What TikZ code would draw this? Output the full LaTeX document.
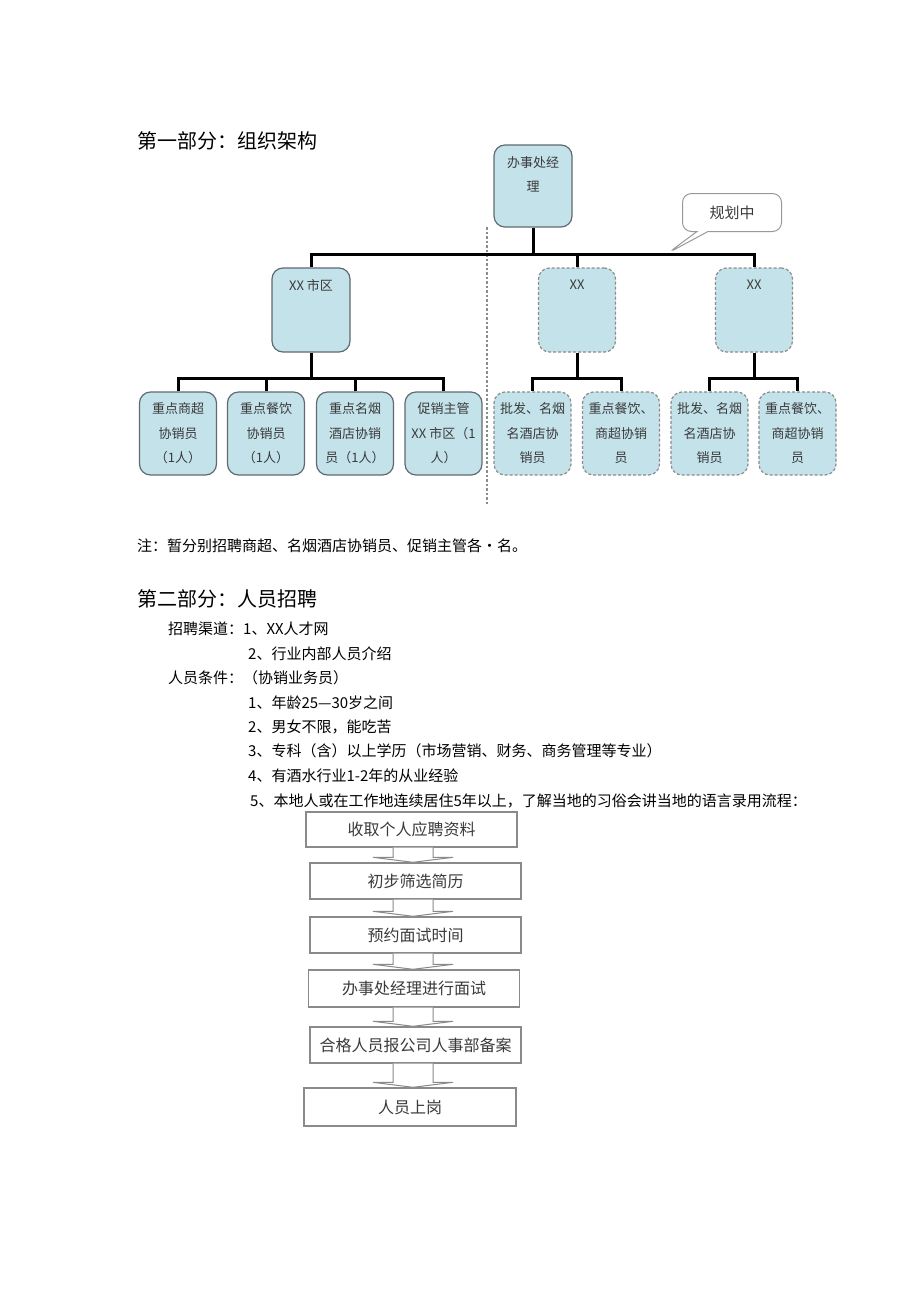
\documentclass[tikz,border=0pt]{standalone}
\usepackage{fontspec}
\setmainfont{Noto Sans CJK SC}
\usetikzlibrary{shapes.callouts,calc}
\definecolor{boxfill}{HTML}{C4E2EA}
\definecolor{boxline}{HTML}{5F6B70}
\definecolor{dashline}{HTML}{8C8C8C}
\definecolor{txt}{HTML}{3A3A3A}
\definecolor{flowline}{HTML}{8A8A8A}
\begin{document}
\begin{tikzpicture}[x=1pt,y=-1pt,
  orgbox/.style={draw=boxline, fill=boxfill, rounded corners=11pt, line width=1.2pt, minimum width=77pt, minimum height=83pt, inner sep=0pt},
  planbox/.style={orgbox, draw=dashline, dash pattern=on 3pt off 2pt},
  boxtext/.style={text=txt, font=\fontsize{13}{24.5}\selectfont, align=center, inner sep=0pt},
  conn/.style={line width=3pt, black, line join=miter},
  heading/.style={anchor=base west, inner sep=0pt, font=\fontsize{20}{20}\selectfont},
  body/.style={anchor=base west, inner sep=0pt, font=\fontsize{15}{15}\selectfont},
  flowbox/.style={draw=flowline, line width=1.4pt, fill=white, minimum width=211pt, minimum height=36pt, inner sep=0pt, text=txt, font=\fontsize{16}{16}\selectfont},
  blockarrow/.style={draw=flowline, line width=1pt, fill=white},
  bubble/.style={rectangle callout, draw=gray!80, fill=white, rounded corners=9pt, minimum width=99pt, minimum height=38pt, callout absolute pointer={(668,253)}, callout pointer width=11pt, font=\fontsize{15}{15}\selectfont, text=txt, line width=1pt},
  sep/.style={draw=dashline, line width=1.3pt, dash pattern=on 2.5pt off 2pt}
]
\fill[white] (0,0) rectangle (920,1301);
\useasboundingbox (0,0) rectangle (920,1301);

% headings
\node[heading] (h1) at (137,148) {第一部分：组织架构};

% separator
\coordinate (s1) at (487,227);
\coordinate (s2) at (487,505);
\draw[sep] (s1) -- (s2);

% org boxes
\node[orgbox, minimum width=78pt, minimum height=82pt] (top) at (533,186) {};
\node[boxtext] (toptext) at (533,174.5) {办事处经\\理};

\node[orgbox, minimum width=78pt, minimum height=84pt] (city) at (311,310) {};
\node[boxtext] (citytext) at (311,285) {XX 市区};
\node[planbox, minimum height=84pt] (plan1) at (577,310) {};
\node[boxtext] (plan1text) at (577,285) {XX};
\node[planbox, minimum height=84pt] (plan2) at (754,310) {};
\node[boxtext] (plan2text) at (754,285) {XX};

\node[orgbox] (b1) at (178,433.5) {};
\node[boxtext] (b1t) at (b1) {重点商超\\协销员\\（1人）};
\node[orgbox] (b2) at (266,433.5) {};
\node[boxtext] (b2t) at (b2) {重点餐饮\\协销员\\（1人）};
\node[orgbox] (b3) at (355,433.5) {};
\node[boxtext] (b3t) at (b3) {重点名烟\\酒店协销\\员（1人）};
\node[orgbox] (b4) at (443.5,433.5) {};
\node[boxtext] (b4t) at (b4) {促销主管\\XX 市区（1\\人）};

\node[planbox] (p1) at (532.5,433.5) {};
\node[boxtext] (p1t) at (p1) {批发、名烟\\名酒店协\\销员};
\node[planbox] (p2) at (621,433.5) {};
\node[boxtext] (p2t) at (p2) {重点餐饮、\\商超协销\\员};
\node[planbox] (p3) at (709.5,433.5) {};
\node[boxtext] (p3t) at (p3) {批发、名烟\\名酒店协\\销员};
\node[planbox] (p4) at (797.5,433.5) {};
\node[boxtext] (p4t) at (p4) {重点餐饮、\\商超协销\\员};

% callout
\node[bubble] (plan) at (732,212.5) {规划中};

% connectors
\coordinate (bus1) at (0,254);
\coordinate (bus2) at (0,378);
\draw[conn] (top.south) -- (top.south |- bus1);
\draw[conn] (city.north) |- (plan2.north |- bus1) -- (plan2.north);
\draw[conn] (plan1.north) -- (plan1.north |- bus1);

\draw[conn] (city.south) -- (city.south |- bus2);
\draw[conn] (b1.north) |- (b4.north |- bus2) -- (b4.north);
\draw[conn] (b2.north) -- (b2.north |- bus2);
\draw[conn] (b3.north) -- (b3.north |- bus2);

\draw[conn] (plan1.south) -- (plan1.south |- bus2);
\draw[conn] (p1.north) |- (p2.north |- bus2) -- (p2.north);
\draw[conn] (plan2.south) -- (plan2.south |- bus2);
\draw[conn] (p3.north) |- (p4.north |- bus2) -- (p4.north);

% notes and part 2
\node[body] (note) at (137,551) {注：暂分别招聘商超、名烟酒店协销员、促销主管各•名。};
\node[heading] (h2) at (137,606) {第二部分：人员招聘};
\node[body] (l1) at (168,634) {招聘渠道：1、XX人才网};
\node[body] (l2) at (248,659) {2、行业内部人员介绍};
\node[body] (l3) at (168,683) {人员条件：（协销业务员）};
\node[body] (l4) at (248,708) {1、年龄25—30岁之间};
\node[body] (l5) at (248,732) {2、男女不限，能吃苦};
\node[body] (l6) at (248,756) {3、专科（含）以上学历（市场营销、财务、商务管理等专业）};
\node[body] (l7) at (248,781) {4、有酒水行业1-2年的从业经验};
\node[body] (l8) at (250,806) {5、本地人或在工作地连续居住5年以上，了解当地的习俗会讲当地的语言录用流程：};

% flow
\node[flowbox, minimum height=35pt] (f1) at (411.5,829.5) {收取个人应聘资料};
\node[flowbox] (f2) at (415.5,881) {初步筛选简历};
\node[flowbox] (f3) at (415.5,935) {预约面试时间};
\node[flowbox, minimum height=37pt] (f4) at (414,988.5) {办事处经理进行面试};
\node[flowbox] (f5) at (415.5,1045) {合格人员报公司人事部备案};
\node[flowbox, minimum width=212pt, minimum height=38pt] (f6) at (410,1107) {人员上岗};

\coordinate (ax) at (413,0);
\foreach \a/\b in {f1/f2,f2/f3,f3/f4,f4/f5,f5/f6}{
  \draw[blockarrow] ($(ax |- \a.south)+(-20,0)$) -- ($(ax |- \b.north)+(-20,-5)$) -- ($(ax |- \b.north)+(-40,-5)$) -- (ax |- \b.north) -- ($(ax |- \b.north)+(40,-5)$) -- ($(ax |- \b.north)+(20,-5)$) -- ($(ax |- \a.south)+(20,0)$);
}
\end{tikzpicture}
\end{document}
